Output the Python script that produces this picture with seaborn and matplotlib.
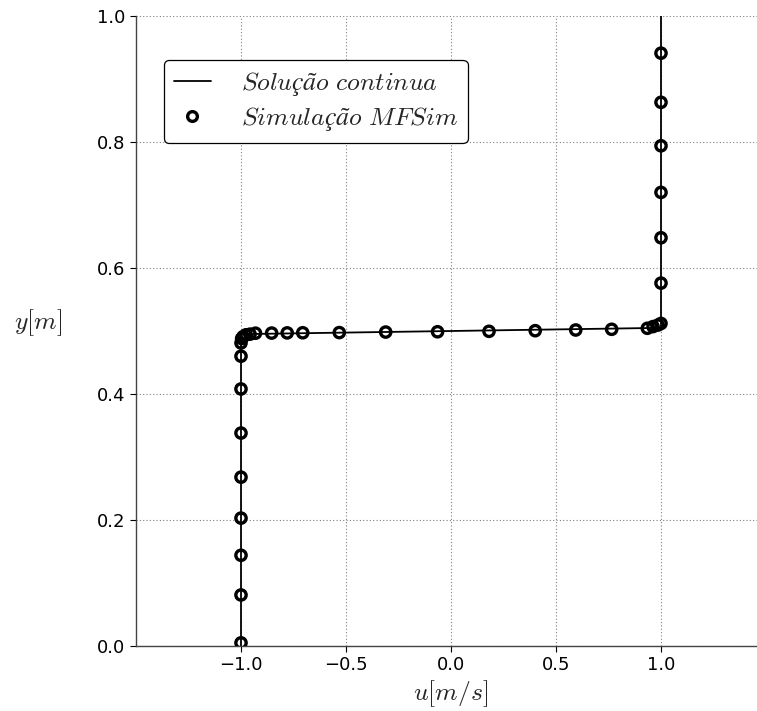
import matplotlib
matplotlib.use("Agg")
import matplotlib.pyplot as plt
import seaborn as sns
import pandas as pd
from matplotlib.lines import Line2D

# continuous solution
line_u = [-1.0, -1.0, 1.0, 1.0]
line_y = [0.0, 0.495, 0.505, 1.0]

# simulation points
sim_u = [-1.0, -1.0, -1.0, -1.0, -1.0, -1.0, -1.0, -1.0, -1.0,
         -0.997, -0.99, -0.976, -0.957,
         -0.931, -0.854, -0.780, -0.706, -0.532, -0.311, -0.064,
         0.181, 0.401, 0.594, 0.765, 0.935,
         0.962, 0.986, 1.0,
         1.0, 1.0, 1.0, 1.0, 1.0, 1.0]
sim_y = [0.005, 0.081, 0.144, 0.203, 0.268, 0.338, 0.408, 0.460, 0.481,
         0.488, 0.491, 0.494, 0.495,
         0.4965, 0.4967, 0.4970, 0.4972, 0.4975, 0.4983, 0.4988,
         0.4995, 0.5005, 0.5016, 0.5027, 0.5043,
         0.507, 0.5095, 0.512,
         0.576, 0.648, 0.720, 0.794, 0.863, 0.941]

x_ticks = [-1.0, -0.5, 0.0, 0.5, 1.0]
y_ticks = [0.0, 0.2, 0.4, 0.6, 0.8, 1.0]

sns.set_style("white")
plt.rcParams['font.family'] = ['DejaVu Sans']
plt.rcParams['mathtext.fontset'] = 'cm'

fig = plt.figure(figsize=(7.57, 7.11), dpi=100)
ax = fig.add_axes([136/757, 65/711, 630/757, 630/711])

df_line = pd.DataFrame({"u": line_u, "y": line_y})
df_sim = pd.DataFrame({"u": sim_u, "y": sim_y})

sns.lineplot(data=df_line, x="u", y="y", sort=False, estimator=None,
             color="black", linewidth=1.3, ax=ax, zorder=2)
sns.scatterplot(data=df_sim, x="u", y="y", ax=ax, marker="o", s=55,
                facecolors="none", edgecolor="black", linewidth=2.4, zorder=3)

ax.set_xlim(-1.5, 1.5)
ax.set_ylim(0.0, 1.0)
ax.set_xticks(x_ticks)
ax.set_yticks(y_ticks)
ax.grid(True, linestyle=(0, (1, 2)), color="gray", linewidth=0.8)
ax.tick_params(axis="both", labelsize=13, direction="out", length=4,
               left=True, bottom=True, colors="black")
for s in ["top", "right"]:
    ax.spines[s].set_visible(False)
for s in ["left", "bottom"]:
    ax.spines[s].set_color("#444444")
    ax.spines[s].set_linewidth(1.0)

ax.set_xlabel(r"$u[m/s]$", fontsize=18.5, labelpad=3)
ax.set_ylabel(r"$y[m]$", fontsize=18.5, rotation=0, va="center", ha="center")
ax.yaxis.set_label_coords(-0.156, 0.514)

handles = [
    Line2D([0], [0], color="black", linewidth=1.3),
    Line2D([0], [0], marker="o", linestyle="none", markersize=7,
           markerfacecolor="none", markeredgecolor="black", markeredgewidth=2.4),
]
labels = [r"$Solução\ continua$", r"$Simulação\ MFSim$"]
leg = ax.legend(handles, labels, loc="upper left",
                bbox_to_anchor=(28/630, (646-60)/630), borderaxespad=0,
                fontsize=18.5, frameon=True, fancybox=True, framealpha=1,
                edgecolor="black", handlelength=1.45, borderpad=0.38,
                labelspacing=0.3, handletextpad=1.15)
leg.get_frame().set_linewidth(0.9)

fig.savefig("out.png", dpi=100)
